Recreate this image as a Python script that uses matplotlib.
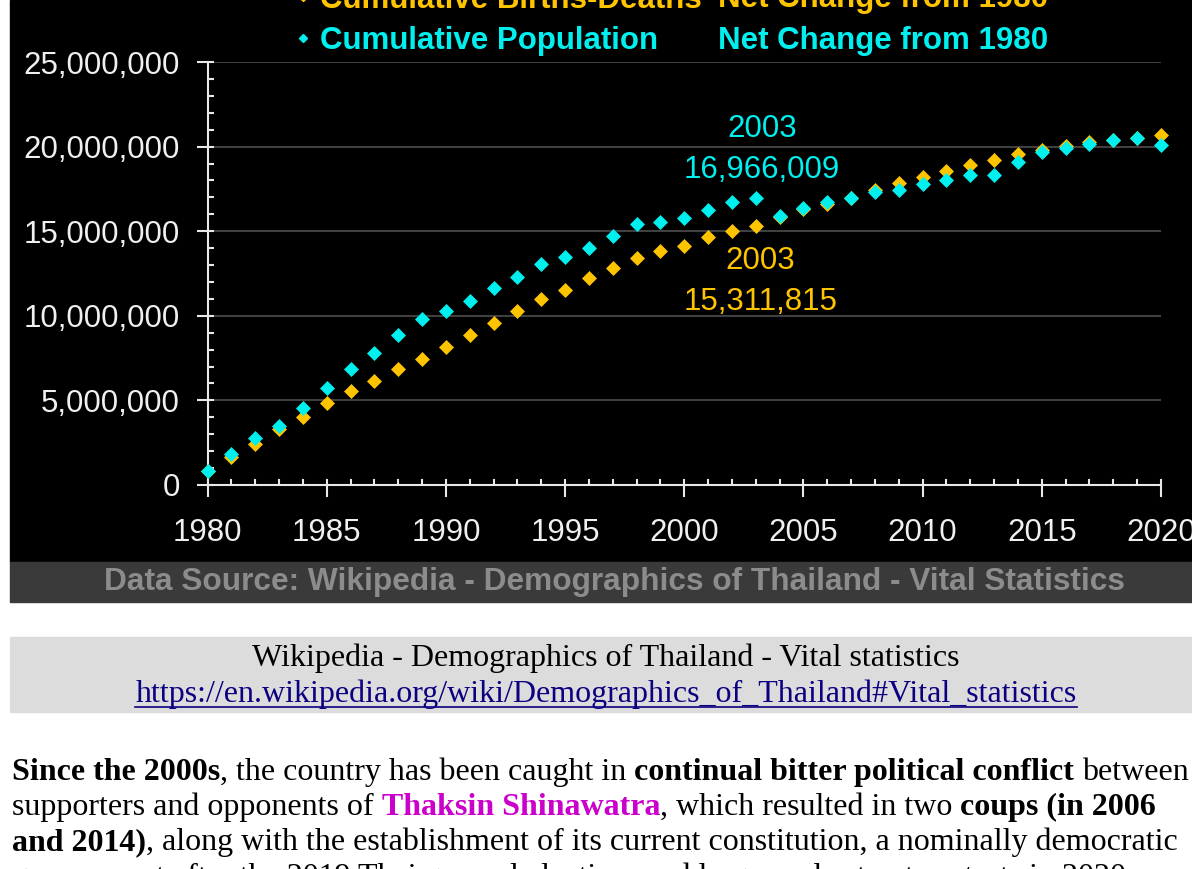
import matplotlib
matplotlib.use('Agg')
import matplotlib.pyplot as plt
from matplotlib.patches import Rectangle
from matplotlib.lines import Line2D
from matplotlib.ticker import MultipleLocator, FuncFormatter

# ---------------- datos ----------------
anios = list(range(1980, 2021))
# Poblacion acumulada - cambio neto desde 1980 (millones)
pob_acum = [0.85, 1.82, 2.76, 3.49, 4.54, 5.72, 6.86, 7.83, 8.88, 9.80,
            10.26, 10.85, 11.67, 12.27, 13.08, 13.45, 14.00, 14.69, 15.44, 15.54,
            15.78, 16.27, 16.73, 16.966009, 15.88, 16.37, 16.73, 16.96, 17.30, 17.42,
            17.77, 18.01, 18.34, 18.34, 19.07, 19.69, 19.90, 20.16, 20.37, 20.49,
            20.12]
# Nacimientos - defunciones acumulados desde 1980 (millones)
nac_def_acum = [0.84, 1.64, 2.43, 3.29, 4.00, 4.83, 5.58, 6.15, 6.84, 7.44,
                8.15, 8.88, 9.55, 10.26, 10.99, 11.54, 12.23, 12.82, 13.41, 13.81,
                14.14, 14.66, 14.99, 15.311815, 15.85, 16.30, 16.63, 16.96, 17.46, 17.85,
                18.22, 18.56, 18.89, 19.19, 19.59, 19.82, 20.06, 20.26, 20.40, 20.52,
                20.67]
anio_nota = 2003
nota_pob = '16,966,009'
nota_nac = '15,311,815'

serie_nac = 'Cumulative Births-Deaths'
serie_pob = 'Cumulative Population'
serie_cambio = 'Net Change from 1980'
fuente = 'Data Source: Wikipedia - Demographics of Thailand - Vital Statistics'
titulo_caja = 'Wikipedia - Demographics of Thailand - Vital statistics'
enlace = 'https://en.wikipedia.org/wiki/Demographics_of_Thailand#Vital_statistics'

# parrafo: (texto, negrita, color)
parrafo = [
    [('Since the 2000s', True, 'black'), (', the country has been caught in ', False, 'black'),
     ('continual bitter political conflict', True, 'black'), (' between', False, 'black')],
    [('supporters and opponents of ', False, 'black'), ('Thaksin Shinawatra', True, '#cc00cc'),
     (', which resulted in two ', False, 'black'), ('coups (in 2006', True, 'black')],
    [('and 2014)', True, 'black'),
     (', along with the establishment of its current constitution, a nominally democratic', False, 'black')],
    [('government after the 2019 Thai general election, and large-scale street protests in 2020', False, 'black')],
]

W, H = 1192, 869
CIAN = '#00f0f0'
ORO = '#ffc400'

def fx(px):
    return px / W

def fy(py):
    return 1 - py / H

fig = plt.figure(figsize=(W / 100, H / 100), dpi=100)
fig.patch.set_facecolor('white')

# fondos
fig.patches.append(Rectangle((fx(10), fy(562)), fx(1192) - fx(10), fy(0) - fy(562),
                             transform=fig.transFigure, color='black', zorder=0))
fig.patches.append(Rectangle((fx(10), fy(602)), fx(1192) - fx(10), fy(562) - fy(602),
                             transform=fig.transFigure, color='#3a3a3a', zorder=0))
fig.patches.append(Rectangle((fx(10), fy(712)), fx(1192) - fx(10), fy(637) - fy(712),
                             transform=fig.transFigure, color='#dcdcdc', zorder=0))

# ---------------- grafico ----------------
ax = fig.add_axes([fx(207.5), fy(485), fx(1161) - fx(207.5), fy(62) - fy(485)])
ax.set_zorder(2)
ax.set_facecolor('none')
ax.plot(anios, [v * 1e6 for v in nac_def_acum], ls='none', marker='D', ms=7.3,
        mfc=ORO, mec=ORO, mew=0.5, clip_on=False, zorder=3)
ax.plot(anios, [v * 1e6 for v in pob_acum], ls='none', marker='D', ms=7.3,
        mfc=CIAN, mec=CIAN, mew=0.5, clip_on=False, zorder=4)
ax.set_xlim(1980, 2020)
ax.set_ylim(0, 25e6)

ax.xaxis.set_major_locator(MultipleLocator(5))
ax.xaxis.set_minor_locator(MultipleLocator(1))
ax.yaxis.set_major_locator(MultipleLocator(5e6))
ax.yaxis.set_minor_locator(MultipleLocator(1e6))
ax.xaxis.remove_overlapping_locs = False
ax.yaxis.remove_overlapping_locs = False
ax.yaxis.set_major_formatter(FuncFormatter(lambda v, p: f'{int(v):,}'))

for s in ['top', 'right']:
    ax.spines[s].set_visible(False)
for s in ['left', 'bottom']:
    ax.spines[s].set_color('#e8e8e8')
    ax.spines[s].set_linewidth(1.5)

ax.tick_params(axis='x', which='major', direction='out', length=8.5, width=1.5,
               color='#e8e8e8', labelcolor='#f0f0f0', labelsize=22.5, pad=15)
ax.tick_params(axis='x', which='minor', direction='in', length=4.3, width=1.5, color='#e8e8e8')
ax.tick_params(axis='y', which='major', direction='out', length=8, width=1.5,
               color='#e8e8e8', labelcolor='#f0f0f0', labelsize=22.5, pad=12)
ax.tick_params(axis='y', which='minor', direction='in', length=4.3, width=1.5, color='#e8e8e8')
for lab in ax.get_xticklabels() + ax.get_yticklabels():
    lab.set_family('Liberation Sans')

for v in [5e6, 10e6, 15e6, 20e6, 25e6]:
    ax.axhline(v, color='#404040', lw=1.5, zorder=1)

# notas del 2003
i = anios.index(anio_nota)
fs_nota = 22.5
ax.annotate(str(anio_nota), (anio_nota, pob_acum[i] * 1e6), xytext=(6, 69),
            textcoords='offset pixels', ha='center', va='center', color=CIAN,
            fontsize=fs_nota, family='Liberation Sans')
ax.annotate(nota_pob, (anio_nota, pob_acum[i] * 1e6), xytext=(6, 28),
            textcoords='offset pixels', ha='center', va='center', color=CIAN,
            fontsize=fs_nota, family='Liberation Sans')
ax.annotate(str(anio_nota), (anio_nota, nac_def_acum[i] * 1e6), xytext=(4, -35),
            textcoords='offset pixels', ha='center', va='center', color=ORO,
            fontsize=fs_nota, family='Liberation Sans')
ax.annotate(nota_nac, (anio_nota, nac_def_acum[i] * 1e6), xytext=(5, -76),
            textcoords='offset pixels', ha='center', va='center', color=ORO,
            fontsize=fs_nota, family='Liberation Sans')

# leyenda
fig.add_artist(Line2D([fx(303)], [fy(-3)], marker='D', ms=4.5, color=ORO, ls='none'))
fig.add_artist(Line2D([fx(303)], [fy(38)], marker='D', ms=4.5, color=CIAN, ls='none'))
for txt, x, y, col in [(serie_nac, 320, 7.5, ORO), (serie_cambio, 718, 7.5, ORO),
                       (serie_pob, 320, 49.5, CIAN), (serie_cambio, 718, 49.5, CIAN)]:
    fig.text(fx(x), fy(y), txt, color=col, fontsize=22.5, weight='bold',
             family='Liberation Sans', va='baseline')

# fuente
fig.text(fx(614), fy(582), fuente, color='#8c8c8c', fontsize=22.8, weight='bold',
         family='Liberation Sans', ha='center', va='center')

# ---------------- texto de la pagina ----------------
fs_serif = 23
fig.text(fx(606), fy(658), titulo_caja, color='black', fontsize=fs_serif,
         family='Liberation Serif', ha='center', va='center')
t_link = fig.text(fx(606), fy(694), enlace, color='#0b0080', fontsize=fs_serif,
                  family='Liberation Serif', ha='center', va='center')

renderer = fig.canvas.get_renderer()
bb = t_link.get_window_extent(renderer)
fig.add_artist(Line2D([bb.x0 / W, bb.x1 / W], [fy(707), fy(707)], color='#0b0080', lw=1.2))

# ancho de un espacio
t1 = fig.text(0, 0, 'a a', fontsize=fs_serif, family='Liberation Serif')
t2 = fig.text(0, 0, 'aa', fontsize=fs_serif, family='Liberation Serif')
esp = t1.get_window_extent(renderer).width - t2.get_window_extent(renderer).width
t1.remove()
t2.remove()

base = 780
for linea in parrafo:
    x = 12
    for txt, negrita, col in linea:
        lead = len(txt) - len(txt.lstrip(' '))
        trail = len(txt) - len(txt.rstrip(' '))
        x += lead * esp
        t = fig.text(fx(x), fy(base), txt.strip(' '), color=col, fontsize=fs_serif,
                     family='Liberation Serif', weight='bold' if negrita else 'normal',
                     va='baseline')
        x += t.get_window_extent(renderer).width + trail * esp
    base += 35

fig.savefig('out.png', dpi=100)
